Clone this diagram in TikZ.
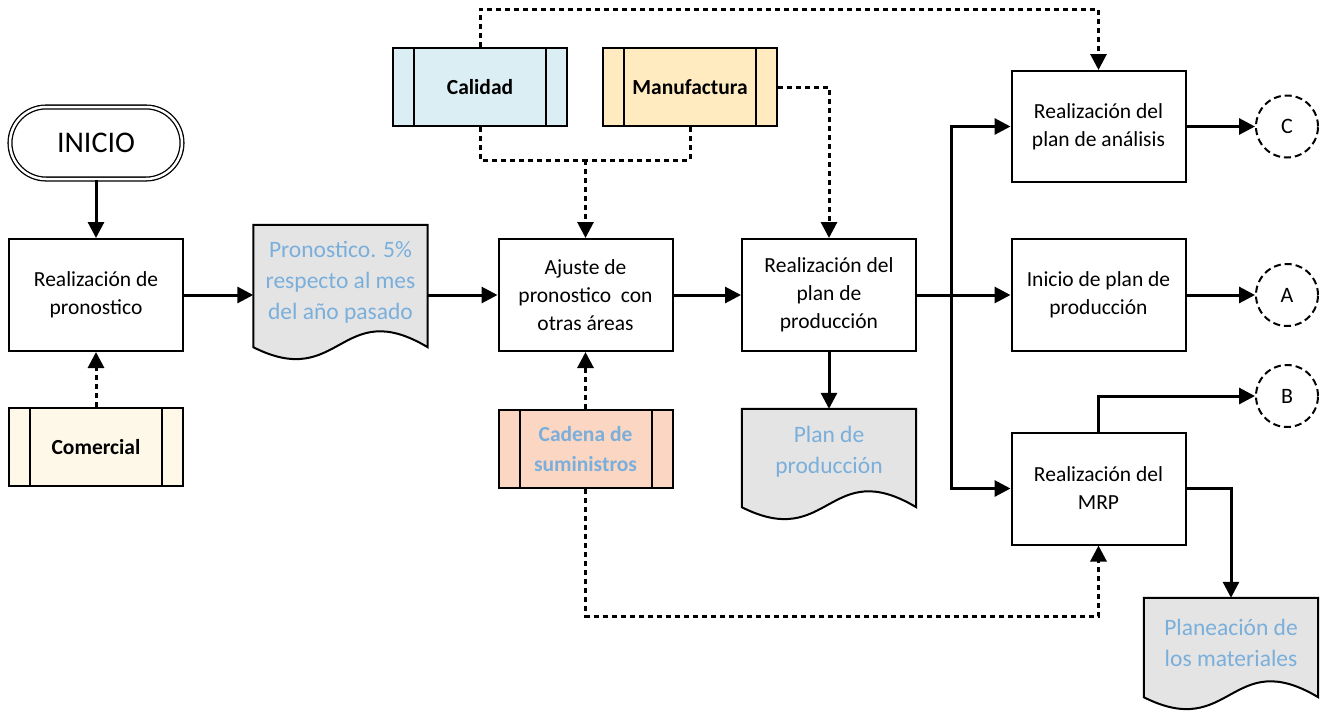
\documentclass[tikz,border=0pt]{standalone}
\usepackage{fontspec}
\setmainfont{Carlito}
\usetikzlibrary{arrows.meta,calc,backgrounds}
\definecolor{txtblue}{HTML}{7AAFDB}
\definecolor{docgray}{HTML}{E4E4E4}
\definecolor{calfill}{HTML}{DAEEF3}
\definecolor{manfill}{HTML}{FFEBBF}
\definecolor{comfill}{HTML}{FEF8E8}
\definecolor{cadfill}{HTML}{FBD6C3}
\begin{document}
\begin{tikzpicture}[x=1pt,y=-1pt,
  font=\fontsize{21.5}{28}\selectfont,
  box/.style={draw, line width=2pt, fill=white, minimum width=174pt, minimum height=112pt, align=center, inner sep=0pt},
  prebox/.style={draw, line width=2pt, minimum width=174pt, minimum height=78pt, align=center, inner sep=0pt,
    font=\fontsize{21.5}{30}\selectfont\bfseries,
    path picture={\draw[line width=2pt]
      ([xshift=21pt]path picture bounding box.north west) -- ([xshift=21pt]path picture bounding box.south west)
      ([xshift=-21pt]path picture bounding box.north east) -- ([xshift=-21pt]path picture bounding box.south east);}},
  docbox/.style={minimum width=174pt, inner sep=0pt},
  doctext/.style={align=center, text=txtblue, inner sep=0pt, font=\fontsize{23.5}{31}\selectfont},
  docshape/.style={draw, line width=2pt, fill=docgray},
  term/.style={draw, double, line width=1.3pt, double distance=2.5pt, rounded corners=36pt,
    minimum width=172pt, minimum height=72pt, font=\fontsize{30}{36}\selectfont},
  conn/.style={draw, dashed, line width=2pt, dash pattern=on 7pt off 4pt, circle, minimum size=62pt, inner sep=0pt,
    font=\fontsize{22}{26}\selectfont},
  flow/.style={line width=3pt, -{Triangle[length=16pt,width=16pt]}},
  flowline/.style={line width=3pt},
  dflow/.style={line width=3pt, dash pattern=on 5pt off 4pt, -{Triangle[length=16pt,width=16pt]}},
  dline/.style={line width=3pt, dash pattern=on 5pt off 4pt}
]
\path[use as bounding box] (0,0) rectangle (1331,713);

% nodes
\node[term] (ini) at (96,143) {INICIO};
\node[box] (p1) at (96,295) {Realización de\\pronostico};
\node[prebox, fill=comfill] (com) at (96,447) {Comercial};

\node[docbox, minimum height=122pt] (d1) at (340.5,286) {};
\node[doctext] (d1t) at ([yshift=4pt]d1.center) {Pronostico. 5\%\\respecto al mes\\del año pasado};

\node[box] (aj) at (585.5,295) {Ajuste de\\pronostico\ \ con\\otras áreas};
\node[prebox, fill=cadfill, text=txtblue] (cad) at (585.5,449) {Cadena de\\suministros};
\node[prebox, fill=calfill] (cal) at (480,87) {Calidad};
\node[prebox, fill=manfill] (man) at (690,87) {Manufactura};

\node[box] (pl) at (829,295) {Realización del\\plan de\\producción};
\node[docbox, minimum height=98pt] (d2) at (829,458) {};
\node[doctext] (d2t) at ([yshift=6pt]d2.center) {Plan de\\producción};

\node[box, minimum height=111pt] (ana) at (1098.5,126.5) {Realización del\\plan de análisis};
\node[box] (inp) at (1098.5,295) {Inicio de plan de\\producción};
\node[box] (mrp) at (1098.5,488.5) {Realización del\\MRP};

\node[conn] (C) at (1287,126.5) {C};
\node[conn] (A) at (1287,295) {A};
\node[conn] (B) at (1287,396) {B};

\node[docbox, minimum height=99pt] (d3) at (1231,647.5) {};
\node[doctext] (d3t) at ([yshift=4.5pt]d3.center) {Planeación de\\los materiales};

% document shapes
\begin{scope}[on background layer]
\foreach \d in {d1,d2,d3}{
  \draw[docshape] (\d.north west) -- (\d.north east) -- (\d.south east)
    .. controls ($(\d.south)+(0,-52)$) and ($(\d.south)+(0,44)$) .. (\d.south west) -- cycle;
}
\end{scope}

% coordinates
\coordinate (j1) at (585.5,160);
\coordinate (j2) at (585.5,616);
\coordinate (jt) at (480,9);
\coordinate (tr) at (951,295);

% solid connectors
\draw[flow] (ini) -- (p1);
\draw[flow] (p1.east) -- (p1.east -| d1.west);
\draw[flow] (d1.east |- aj.west) -- (aj.west);
\draw[flow] (aj) -- (pl);
\draw[flow] (pl) -- (d2.north);
\draw[flow] (pl.east) -- (inp.west);
\draw[flow] (tr) |- (ana.west);
\draw[flow] (tr) |- (mrp.west);
\draw[flow] (ana.east) -- (C.west);
\draw[flow] (inp.east) -- (A.west);
\draw[flow] (mrp.north) |- (B.west);
\draw[flow] (mrp.east) -| (d3.north);

% dashed connectors
\draw[dflow] (com) -- (p1);
\draw[dflow] (cad) -- (aj);
\draw[dline] (cal.south) |- (j1);
\draw[dline] (man.south) |- (j1);
\draw[dflow] (j1) -- (aj.north);
\draw[dflow] (cal.north) -- (jt) -| (ana.north);
\draw[dflow] (man.east) -| (pl.north);
\draw[dflow] (cad.south) -- (j2) -| (mrp.south);
\end{tikzpicture}
\end{document}
